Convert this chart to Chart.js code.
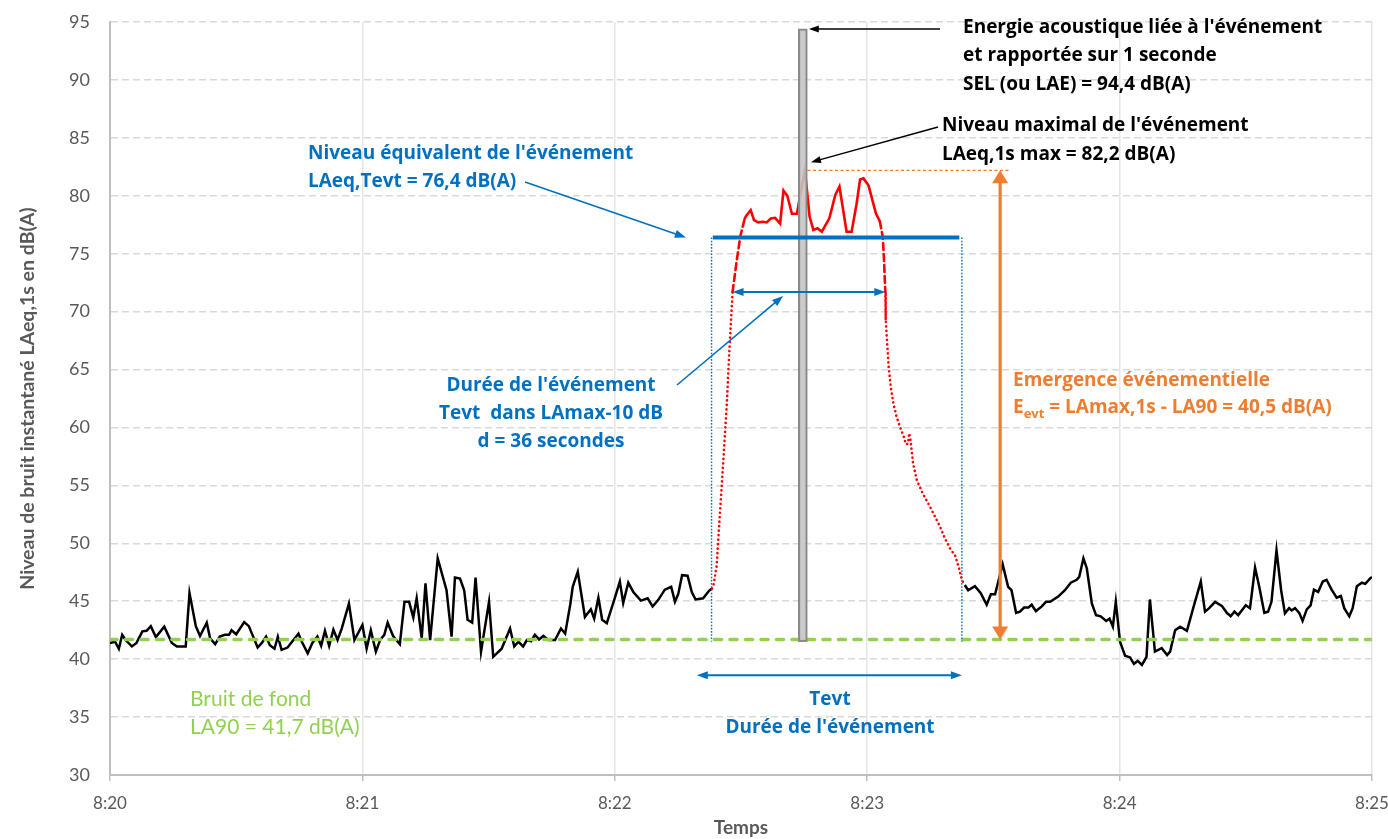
<!DOCTYPE html>
<html lang="fr">
<head>
<meta charset="utf-8">
<title>Événement acoustique – LAeq,1s</title>
<script src="https://cdn.jsdelivr.net/npm/chart.js"></script>
<style>
  html, body { margin: 0; padding: 0; background: #ffffff; }
  #wrap { position: relative; width: 1388px; height: 839px; }
</style>
</head>
<body>
<div id="wrap"><canvas id="chart"></canvas></div>
<script>
// Time axis: seconds after 8:20:00. Levels: LAeq,1s in dB(A).
const minuteLabels = ['8:20', '8:21', '8:22', '8:23', '8:24', '8:25'];

// Ambient noise before the event
const beforeTimes = [0,1.2,2.1,2.9,3.7,5.2,6.3,7.7,8.7,9.7,10.9,12.9,14.7,15.9,18.0,18.9,20.4,21.4,23.0,23.8,
  25.0,26.1,27.3,28.3,28.9,30.0,31.9,33.0,35.1,36.1,37.1,38.0,39.1,39.9,40.8,42.2,43.6,44.8,45.6,47.0,
  48.1,49.3,50.2,51.1,52.1,53.1,54.1,55.1,56.8,58.1,60.0,61.0,62.0,63.2,64.2,65.2,66.0,67.3,68.9,70.0,
  71.1,72.1,72.9,74.1,75.0,76.1,77.9,80.0,81.2,82.0,83.2,84.2,85.0,86.1,86.9,88.2,90.1,91.1,93.1,95.1,
  96.1,97.1,98.2,99.1,100.1,101.0,102.0,103.0,104.2,105.8,107.2,108.2,109.4,110.0,111.2,112.9,114.3,115.1,116.1,117.0,
  118.1,119.9,121.2,122.0,123.2,124.4,126.2,127.8,129.0,130.3,131.9,133.4,134.3,135.1,136.0,137.3,138.3,139.2,141.0,142.4,
  143.1];
const beforeLevels = [41.4,41.5,40.9,42.1,41.65,41.1,41.4,42.4,42.45,42.85,41.9,42.8,41.4,41.1,41.1,45.7,42.85,42.0,43.15,41.8,
  41.3,41.95,42.1,42.1,42.5,42.15,43.2,42.85,41.0,41.4,41.95,41.2,40.9,41.95,40.8,41.0,41.65,42.2,41.5,40.5,
  41.4,41.95,41.15,42.45,41.15,42.55,41.65,42.65,44.8,41.65,42.95,40.9,42.5,40.65,41.65,42.1,43.15,42.0,41.3,44.95,
  44.95,43.6,45.25,41.8,46.55,41.65,48.7,45.95,41.95,47.05,46.95,45.95,43.4,43.15,47.05,40.65,44.95,40.2,40.9,42.65,
  41.1,41.5,41.1,41.65,41.55,42.1,41.7,42.0,41.65,41.65,42.65,42.2,44.7,46.25,47.55,43.65,44.3,43.5,45.3,43.4,
  43.1,45.15,46.7,44.85,46.6,45.8,45.05,45.25,44.55,45.1,46.0,46.25,44.95,45.65,47.25,47.2,45.8,45.15,45.25,45.9,
  46.1];

// The event itself
const eventTimes = [143.1,143.4,144.2,144.6,145.0,145.4,145.8,146.2,146.6,146.9,147.2,147.5,148.0,149.0,149.9,150.9,
  151.3,152.3,153.1,154.1,155.2,156.1,157.1,158.1,159.3,160.1,161.0,162.1,163.3,164.0,165.2,166.3,167.2,168.2,169.2,
  171.0,172.4,173.4,175.1,176.3,177.5,178.3,179.1,180.3,182.1,183.0,183.7,184.0,184.3,184.4,184.7,185.1,185.6,186.2,
  187.0,187.8,188.7,189.2,189.7,190.0,190.3,190.9,191.8,193.2,194.5,195.7,197.3,198.5,199.7,200.9,201.7,202.5,203.2];
const eventLevels = [46.1,46.25,48.0,50.3,52.6,54.9,57.2,59.5,61.8,64.1,66.4,68.4,71.7,74.45,76.6,78.05,
  78.3,78.75,77.9,77.7,77.75,77.7,78.05,78.1,77.6,80.45,80.0,78.45,78.45,79.9,82.2,78.2,77.05,77.2,76.9,
  78.05,80.05,80.8,76.9,76.9,79.35,81.4,81.5,80.9,78.45,77.8,76.45,74.45,71.7,69.3,67.55,65.25,63.5,62.1,
  60.9,60.05,59.2,58.55,58.6,59.5,58.9,56.9,55.45,54.3,53.45,52.6,51.45,50.4,49.55,48.95,48.0,46.85,46.4];

// Ambient noise after the event
const afterTimes = [203.2,204.0,205.6,207.0,208.4,209.4,210.4,212.2,213.5,214.3,215.4,216.3,217.3,218.3,219.1,220.1,221.5,222.5,223.5,225.4,
  227.0,228.4,229.8,230.4,231.4,232.2,233.4,234.4,235.5,236.8,237.6,238.4,239.1,240.1,241.3,242.5,243.4,244.3,245.3,246.4,
  247.2,248.4,250.0,251.3,252.0,253.2,254.4,256.0,257.5,259.3,260.3,261.3,262.7,264.3,265.5,266.4,267.3,268.2,270.0,271.0,
  272.2,273.2,274.4,275.3,276.1,277.3,278.4,279.3,280.3,280.9,281.7,282.7,283.5,284.5,285.4,286.2,287.2,288.3,289.2,290.4,
  291.6,292.6,293.4,294.6,295.4,296.4,297.6,298.4,299.5,300];
const afterLevels = [46.4,45.95,46.3,45.7,44.7,45.6,45.6,48.2,46.25,45.95,44.0,44.1,44.45,44.45,44.7,44.15,44.55,44.95,44.95,45.4,
  45.95,46.6,46.85,47.1,48.7,47.85,44.8,43.8,43.7,43.3,43.5,42.8,44.95,41.5,40.3,40.15,39.6,39.85,39.5,40.2,
  45.15,40.65,40.95,40.35,40.65,42.5,42.8,42.45,44.4,46.7,44.1,44.4,44.95,44.6,44.0,43.7,44.1,43.8,44.65,44.4,
  47.9,46.25,44.0,44.1,44.95,49.4,45.95,43.95,44.4,44.2,44.4,44.0,43.3,44.3,44.65,46.0,45.8,46.7,46.85,46.0,
  45.3,45.45,44.4,43.7,44.4,46.3,46.6,46.5,46.95,47.1];

// Event indicators (dB(A)) and their times (s)
const LA90 = 41.7;          // background level
const LAEQ_EVT = 76.4;      // equivalent level over Tevt
const LAMAX = 82.2;         // max 1-second level
const SEL = 94.4;           // sound exposure level
const peakTime = 165.2;
const selTime = 164.7;
const selBase = 41.5;
const durationLevel = 71.7; // LAmax - 10 dB crossing
const durStart = 148.0, durEnd = 184.3;     // d = 36 s
const solidFrom = 150.9, solidTo = 183.0;   // main body of the event
const tevtStart = 143.0, tevtEnd = 202.5;   // full event span
const laeqFrom = 143.3, laeqTo = 201.9;
const emergenceTime = 211.6;

const BLUE = '#0070C0', ORANGE = '#ED7D31', GREEN = '#92D050', AXIS_TXT = '#595959';
const FONT = "Lato, 'Open Sans', sans-serif";
const NOTE_FONT = "'Open Sans', Lato, sans-serif";

const pts = (ts, vs) => ts.map((t, i) => ({ x: t, y: vs[i] }));

function head(ctx, x1, y1, x2, y2, len, half) {
  const a = Math.atan2(y2 - y1, x2 - x1);
  const c = Math.cos(a), s = Math.sin(a);
  ctx.beginPath();
  ctx.moveTo(x2, y2);
  ctx.lineTo(x2 - len * c + half * s, y2 - len * s - half * c);
  ctx.lineTo(x2 - len * c - half * s, y2 - len * s + half * c);
  ctx.closePath();
  ctx.fill();
}

function arrow(ctx, x1, y1, x2, y2, o) {
  const len = o.len || 10, half = o.half || 4;
  const a = Math.atan2(y2 - y1, x2 - x1);
  const c = Math.cos(a), s = Math.sin(a);
  ctx.save();
  ctx.setLineDash([]);
  ctx.strokeStyle = o.color; ctx.fillStyle = o.color; ctx.lineWidth = o.width;
  const sx = o.both ? x1 + c * len * 0.7 : x1, sy = o.both ? y1 + s * len * 0.7 : y1;
  ctx.beginPath();
  ctx.moveTo(sx, sy);
  ctx.lineTo(x2 - c * len * 0.7, y2 - s * len * 0.7);
  ctx.stroke();
  head(ctx, x1, y1, x2, y2, len, half);
  if (o.both) head(ctx, x2, y2, x1, y1, len, half);
  ctx.restore();
}

function seg(ctx, x1, y1, x2, y2, color, width, dash) {
  ctx.save();
  ctx.strokeStyle = color; ctx.lineWidth = width; ctx.setLineDash(dash || []);
  ctx.beginPath(); ctx.moveTo(x1, y1); ctx.lineTo(x2, y2); ctx.stroke();
  ctx.restore();
}

function label(ctx, str, x, y, color, font, align) {
  ctx.save();
  ctx.font = font; ctx.fillStyle = color; ctx.textAlign = align || 'left'; ctx.textBaseline = 'middle';
  ctx.fillText(str, x, y);
  ctx.restore();
}

const notes = {
  id: 'notes',
  afterDatasetsDraw(chart) {
    const { ctx, scales: { x, y } } = chart;
    const X = t => x.getPixelForValue(t), Y = v => y.getPixelForValue(v);

    // Tevt bounds
    seg(ctx, X(tevtStart), Y(LAEQ_EVT), X(tevtStart), Y(selBase), BLUE, 1.4, [1.6, 1.6]);
    seg(ctx, X(tevtEnd), Y(LAEQ_EVT), X(tevtEnd), Y(selBase), BLUE, 1.4, [1.6, 1.6]);

    // max level reference
    seg(ctx, X(peakTime + 0.6), Y(LAMAX), X(emergenceTime + 2.3), Y(LAMAX), ORANGE, 1.2, [3, 2.5]);

    // emergence arrow
    arrow(ctx, X(emergenceTime), Y(LAMAX), X(emergenceTime), Y(LA90),
      { color: ORANGE, width: 3.2, len: 13, half: 8, both: true });

    // duration in LAmax-10 dB
    arrow(ctx, X(durStart), Y(durationLevel), X(durEnd), Y(durationLevel),
      { color: BLUE, width: 2, len: 11, half: 4, both: true });

    // Tevt span under the curve
    arrow(ctx, X(tevtStart - 3.5), Y(38.6), X(tevtEnd), Y(38.6),
      { color: BLUE, width: 2, len: 11, half: 4, both: true });

    // leader arrows
    arrow(ctx, 525, 182, X(136.9), Y(LAEQ_EVT), { color: BLUE, width: 1.6, len: 11, half: 4 });
    arrow(ctx, 677, 385, X(160), Y(durationLevel) + 4, { color: BLUE, width: 1.6, len: 11, half: 4 });
    arrow(ctx, 940, Y(SEL), X(selTime) + 6, Y(SEL), { color: '#000000', width: 1.4, len: 10, half: 3.5 });
    arrow(ctx, 938, 127, X(peakTime) + 6, Y(LAMAX) - 8, { color: '#000000', width: 1.4, len: 10, half: 3.5 });
  },
  afterDraw(chart) {
    const { ctx } = chart;
    const B = 'bold 19px ' + NOTE_FONT;

    label(ctx, "Energie acoustique liée à l'événement", 963, 28, '#000000', B);
    label(ctx, 'et rapportée sur 1 seconde', 963, 56, '#000000', B);
    label(ctx, 'SEL (ou LAE) = 94,4 dB(A)', 963, 85, '#000000', B);

    label(ctx, "Niveau maximal de l'événement", 942, 126, '#000000', B);
    label(ctx, 'LAeq,1s max = 82,2 dB(A)', 942, 155, '#000000', B);

    label(ctx, "Niveau équivalent de l'événement", 308, 154, BLUE, B);
    label(ctx, 'LAeq,Tevt = 76,4 dB(A)', 308, 182, BLUE, B);

    label(ctx, "Durée de l'événement", 551, 386, BLUE, B, 'center');
    label(ctx, 'Tevt  dans LAmax-10 dB', 551, 414, BLUE, B, 'center');
    label(ctx, 'd = 36 secondes', 551, 442, BLUE, B, 'center');

    label(ctx, 'Tevt', 830, 700, BLUE, B, 'center');
    label(ctx, "Durée de l'événement", 830, 728, BLUE, B, 'center');

    label(ctx, 'Emergence événementielle', 1013, 381, ORANGE, B);
    // E with subscript evt
    ctx.save();
    ctx.textBaseline = 'middle'; ctx.fillStyle = ORANGE;
    let cx = 1013;
    ctx.font = B; ctx.fillText('E', cx, 408); cx += ctx.measureText('E').width;
    ctx.font = 'bold 13px ' + NOTE_FONT; ctx.fillText('evt', cx, 414); cx += ctx.measureText('evt').width;
    ctx.font = B; ctx.fillText(' = LAmax,1s - LA90 = 40,5 dB(A)', cx, 408);
    ctx.restore();

    label(ctx, 'Bruit de fond', 190, 699, GREEN, '21px ' + FONT);
    label(ctx, 'LA90 = 41,7 dB(A)', 190, 727, GREEN, '21px ' + FONT);
  }
};

const eventStyle = c => {
  const t = c.p0.parsed.x;
  if (t < durStart || t >= durEnd) return [0.1, 4.4];
  if (t < solidFrom || t >= solidTo) return [7, 4];
  return [];
};

new Chart(document.getElementById('chart'), {
  type: 'line',
  data: {
    datasets: [
      {
        label: 'LAeq,Tevt', data: pts([laeqFrom, laeqTo], [LAEQ_EVT, LAEQ_EVT]),
        borderColor: BLUE, borderWidth: 4, order: 0
      },
      {
        type: 'bar', label: 'SEL', data: [{ x: selTime, y: [selBase, SEL] }],
        barThickness: 9, backgroundColor: 'rgba(196,196,196,0.88)', borderColor: '#8a8a8a',
        borderWidth: 2, borderSkipped: false, order: 1
      },
      {
        label: 'Événement', data: pts(eventTimes, eventLevels),
        borderColor: '#FF0000', borderWidth: 2.6, borderCapStyle: 'round', order: 2,
        segment: { borderDash: eventStyle }
      },
      {
        label: 'LA90', data: pts([0, 300], [LA90, LA90]),
        borderColor: GREEN, borderWidth: 3.6, borderDash: [7, 8.5], borderCapStyle: 'round', order: 3
      },
      {
        label: 'Avant', data: pts(beforeTimes, beforeLevels),
        borderColor: '#000000', borderWidth: 2.5, order: 4
      },
      {
        label: 'Après', data: pts(afterTimes, afterLevels),
        borderColor: '#000000', borderWidth: 2.5, order: 4
      }
    ]
  },
  options: {
    responsive: true,
    maintainAspectRatio: false,
    animation: false,
    layout: { padding: { left: 0, right: 16, top: 22, bottom: 0 } },
    elements: { point: { radius: 0, hoverRadius: 0 }, line: { tension: 0 } },
    plugins: { legend: { display: false }, tooltip: { enabled: false } },
    scales: {
      x: {
        type: 'linear', min: 0, max: 300, offset: false,
        afterFit: s => { s.height = 64; s.paddingLeft = 0; s.paddingRight = 0; },
        grid: { color: '#e6e6e6', lineWidth: 1.5, offset: false, drawTicks: true, tickLength: 6, tickColor: '#bfbfbf' },
        border: { color: '#bfbfbf', width: 2 },
        ticks: {
          stepSize: 60, autoSkip: false, maxRotation: 0, padding: 12,
          color: AXIS_TXT, font: { family: FONT, size: 17 },
          callback: v => minuteLabels[Math.round(v / 60)]
        },
        title: {
          display: true, text: 'Temps', color: AXIS_TXT,
          font: { family: FONT, size: 19, weight: 'bold' }, padding: { top: -7, bottom: 0 }
        }
      },
      y: {
        min: 30, max: 95,
        afterFit: s => { s.width = 110; s.paddingTop = 0; s.paddingBottom = 0; },
        grid: { color: '#d9d9d9', lineWidth: 1.5, drawTicks: false },
        border: { color: '#bfbfbf', width: 2, dash: [7, 4] },
        ticks: { stepSize: 5, padding: 20, color: AXIS_TXT, font: { family: FONT, size: 18 } },
        title: {
          display: true, text: 'Niveau de bruit instantané LAeq,1s en dB(A)', color: AXIS_TXT,
          font: { family: FONT, size: 19.5, weight: 'bold' }, padding: { top: 16, bottom: 0 }
        }
      }
    }
  },
  plugins: [notes]
});
</script>
</body>
</html>
